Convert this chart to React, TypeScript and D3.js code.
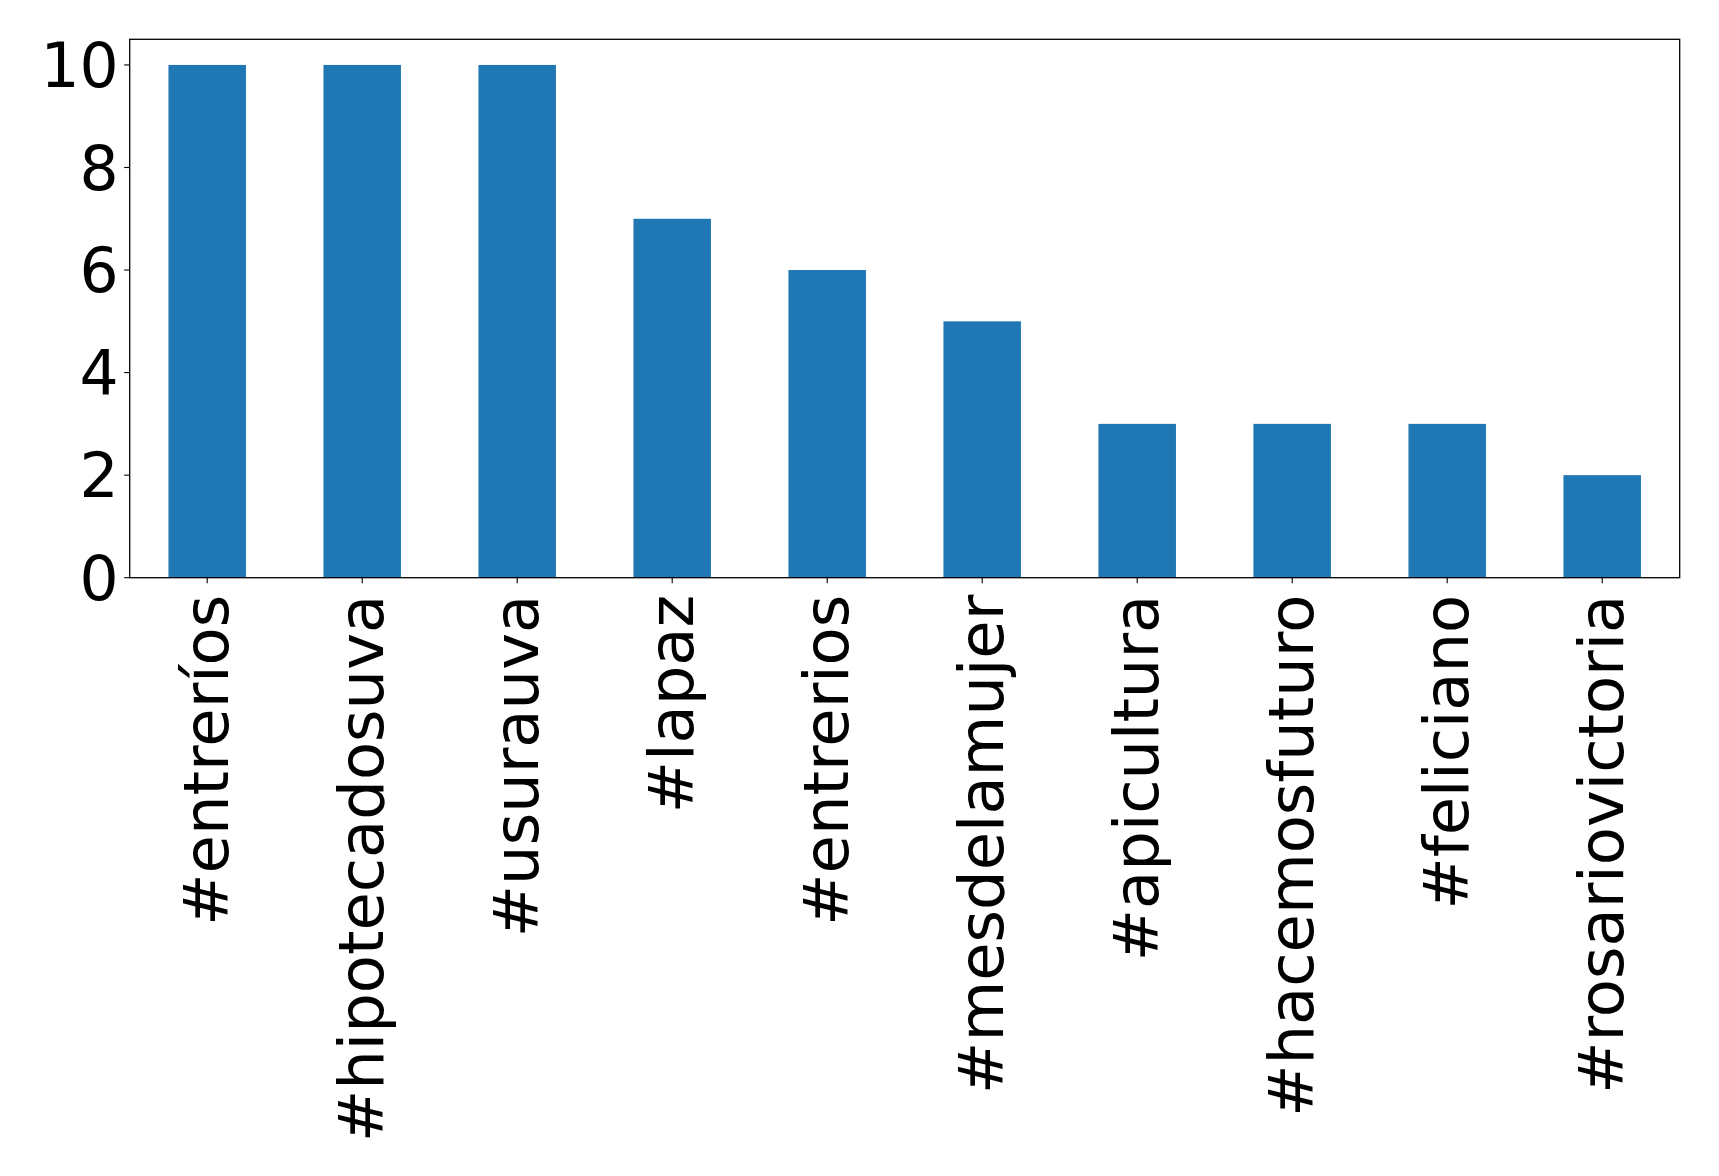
import React from "react";
import * as d3 from "d3";

const categories = ["#entreríos", "#hipotecadosuva", "#usurauva", "#lapaz", "#entrerios", "#mesdelamujer", "#apicultura", "#hacemosfuturo", "#feliciano", "#rosariovictoria"];
const counts = [10, 10, 10, 7, 6, 5, 3, 3, 3, 2];
const yTicks = [0, 2, 4, 6, 8, 10];

const W = 1719, H = 1176;
const left = 129.7, right = 1679.7, top = 39.3, bottom = 577.7;
const FSX = 62.4;
const FSY = 61.5;

export default function App() {
  const x = d3.scaleLinear().domain([-0.5, categories.length - 0.5]).range([left, right]);
  const y = d3.scaleLinear().domain([0, 10.5]).range([bottom, top]);
  const bw = (x(1) - x(0)) * 0.5;
  const font = "'DejaVu Sans', sans-serif";
  return (
    <svg width={W} height={H} style={{ position: "absolute", left: 0, top: 0, background: "#fff" }}>
      <rect x={0} y={0} width={W} height={H} fill="#fff" />
      {counts.map((v, i) => (
        <rect key={i} x={x(i) - bw / 2} y={y(v)} width={bw} height={y(0) - y(v)} fill="#1f77b4" />
      ))}
      <rect x={left} y={top} width={right - left} height={bottom - top} fill="none" stroke="#000" strokeWidth={1.3} />
      {yTicks.map((t) => (
        <g key={t}>
          <line x1={left - 5.5} x2={left} y1={y(t)} y2={y(t)} stroke="#000" strokeWidth={1.1} />
          <text x={left - 11} y={y(t)} dy="0.36em" textAnchor="end" fontFamily={font} fontSize={FSY} fill="#000">{t}</text>
        </g>
      ))}
      {categories.map((c, i) => (
        <g key={c}>
          <line x1={x(i)} x2={x(i)} y1={bottom} y2={bottom + 5.5} stroke="#000" strokeWidth={1.1} />
          <text transform={`translate(${x(i) + 20.5},${bottom + 17}) rotate(-90)`} textAnchor="end" fontFamily={font} fontSize={FSX} fill="#000">{c}</text>
        </g>
      ))}
    </svg>
  );
}
